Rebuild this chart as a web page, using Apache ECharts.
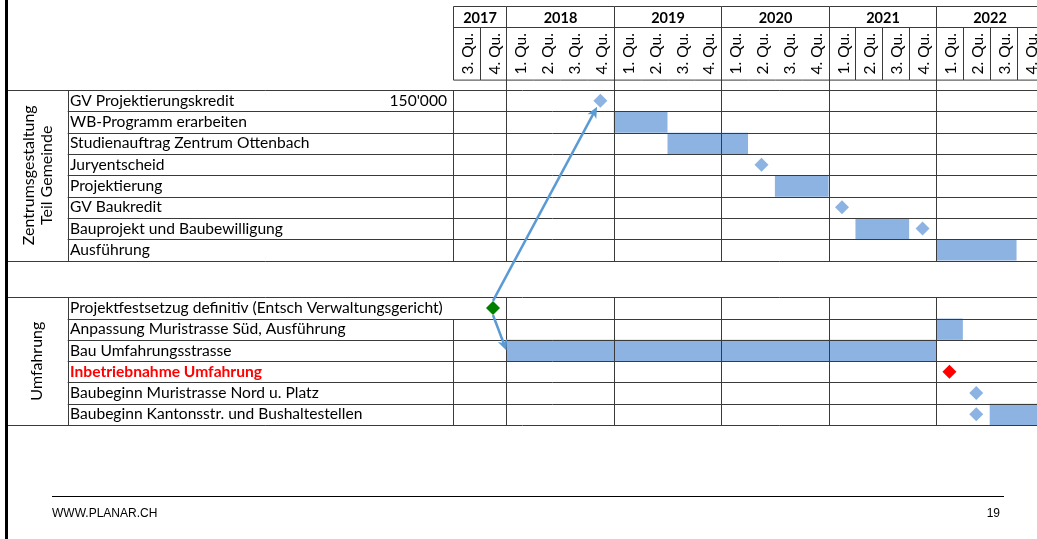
<!DOCTYPE html>
<html><head><meta charset="utf-8">
<script src="https://cdn.jsdelivr.net/npm/echarts@6/dist/echarts.min.js"></script>
<style>html,body{margin:0;padding:0;background:#fff}#c{width:1037px;height:539px}</style>
</head><body><div id="c"></div>
<script>
// ---------- data ----------
const years = ['2017', '2018', '2019', '2020', '2021', '2022'];
const yearStart = [0, 2, 6, 10, 14, 18];   // quarter index (0 = 2017 Q3)
const yearEnd = [2, 6, 10, 14, 18, 22];
const quarterLabels = ['3. Qu.', '4. Qu.',
  '1. Qu.', '2. Qu.', '3. Qu.', '4. Qu.',
  '1. Qu.', '2. Qu.', '3. Qu.', '4. Qu.',
  '1. Qu.', '2. Qu.', '3. Qu.', '4. Qu.',
  '1. Qu.', '2. Qu.', '3. Qu.', '4. Qu.',
  '1. Qu.', '2. Qu.', '3. Qu.', '4. Qu.'];
const groupA = 'Zentrumsgestaltung\nTeil Gemeinde';
const groupB = 'Umfahrung';
const tasksA = ['GV Projektierungskredit', 'WB-Programm erarbeiten', 'Studienauftrag Zentrum Ottenbach',
  'Juryentscheid', 'Projektierung', 'GV Baukredit', 'Bauprojekt und Baubewilligung', 'Ausführung'];
const tasksB = ['Projektfestsetzug definitiv (Entsch Verwaltungsgericht)', 'Anpassung Muristrasse Süd, Ausführung',
  'Bau Umfahrungsstrasse', 'Inbetriebnahme Umfahrung', 'Baubeginn Muristrasse Nord u. Platz',
  'Baubeginn Kantonsstr. und Bushaltestellen'];
const highlightTask = 'Inbetriebnahme Umfahrung';
const creditAmount = "150'000";
// bars: [row, startQuarter, endQuarter]
const barsA = [[1, 6, 8], [2, 8, 11], [4, 12, 14], [6, 15, 17], [7, 18, 21]];
const barsB = [[1, 18, 19], [2, 2, 18], [5, 20, 22]];
// milestones: [quarter, row]
const milestonesA = [[5.5, 0], [11.5, 3], [14.5, 5], [17.5, 6]];
const milestonesB = [[19.5, 4], [19.5, 5]];
const decisionB = [[1.5, 0]];
const openingB = [[18.5, 3]];
const footerLeft = 'WWW.PLANAR.CH';
const footerRight = '19';

// ---------- layout / style ----------
const W = 1037, QW = 26.85;
const G = { left: 452.7, nameX: 67.7, outerX: 8, labelX: 70,
  aTop: 90, aH: 170.6, bTop: 297.3, bH: 127.7,
  hTop: 5.7, yearH: 21, qH: 52.6, hH: 84.3 };
const XMAX = (W - G.left) / QW;   // visible quarter range (chart is cut at the right edge)
const LINE = '#3a3a3a';
const BAR = '#8db3e2';
const FONT = 'Lato, "Open Sans", sans-serif';
const TFS = 15.6;
const quarterDividers = [1, 15, 16, 17, 19, 20, 21];

const chart = echarts.init(document.getElementById('c'), null, { renderer: 'canvas' });

function renderBar(params, api) {
  const row = api.value(0), s = api.value(1), e = api.value(2);
  const p0 = api.coord([s, row]), p1 = api.coord([e, row]);
  const h = api.size([0, 1])[1];
  return { type: 'rect', shape: { x: p0[0], y: p0[1] - h / 2, width: p1[0] - p0[0], height: h },
    style: { fill: BAR } };
}
function renderYearLine(params, api) {
  const x = Math.round(api.coord([api.value(0), 0])[0]) + 0.5;
  const cs = params.coordSys;
  return { type: 'line', shape: { x1: x, y1: Math.round(cs.y) + 0.5, x2: x, y2: Math.round(cs.y + cs.height) + 0.5 },
    style: { stroke: LINE, lineWidth: 1 } };
}
function renderYear(params, api) {
  const i = params.dataIndex, cs = params.coordSys;
  const x0 = Math.round(api.coord([api.value(1), 0])[0]) + 0.5;
  const x1 = Math.round(api.coord([api.value(2), 0])[0]) + 0.5;
  const top = Math.round(cs.y) + 0.5;
  const ch = [
    { type: 'line', shape: { x1: x0, y1: top, x2: x1, y2: top }, style: { stroke: LINE, lineWidth: 1 } },
    { type: 'line', shape: { x1: x0, y1: top + G.yearH, x2: x1, y2: top + G.yearH }, style: { stroke: LINE, lineWidth: 1 } },
    { type: 'line', shape: { x1: x0, y1: top, x2: x0, y2: i === 0 ? top + G.yearH + G.qH : Math.round(cs.y + cs.height) + 0.5 },
      style: { stroke: LINE, lineWidth: 1 } },
    { type: 'text', style: { text: years[i], x: (x0 + x1) / 2, y: top + G.yearH / 2 + 1, align: 'center',
      verticalAlign: 'middle', font: 'bold 14.5px ' + FONT, fill: '#000' } }
  ];
  return { type: 'group', children: ch };
}
function renderQuarter(params, api) {
  const i = api.value(0), cs = params.coordSys;
  const x0 = Math.round(api.coord([i, 0])[0]) + 0.5;
  const x1 = Math.round(api.coord([i + 1, 0])[0]) + 0.5;
  const top = Math.round(cs.y) + 0.5 + G.yearH;
  const bottom = top + G.qH;
  const ch = [
    { type: 'line', shape: { x1: x0, y1: bottom, x2: x1, y2: bottom }, style: { stroke: LINE, lineWidth: 1 } },
    { type: 'text', x: (x0 + x1) / 2 + 1, y: (top + bottom) / 2, rotation: Math.PI / 2,
      style: { text: quarterLabels[i], align: 'center', verticalAlign: 'middle', font: '15.5px ' + FONT, fill: '#000' } }
  ];
  if (quarterDividers.indexOf(i) >= 0) {
    ch.push({ type: 'line', shape: { x1: x0, y1: top, x2: x0, y2: bottom }, style: { stroke: LINE, lineWidth: 1 } });
  }
  return { type: 'group', children: ch };
}

function catAxis(gridIndex, data) {
  return {
    gridIndex, type: 'category', inverse: true, z: 5, data,
    axisTick: { show: false },
    axisLine: { show: false },
    axisLabel: { interval: 0, align: 'left', margin: G.left - G.labelX, color: '#000', fontSize: TFS, fontFamily: FONT,
      formatter: v => v === highlightTask ? '{r|' + v + '}' : v,
      rich: { r: { color: '#ff0000', fontWeight: 'bold', fontSize: TFS, fontFamily: FONT } } },
    splitLine: { show: false }
  };
}
const valX = gi => ({ gridIndex: gi, type: 'value', min: 0, max: XMAX, show: false });
const gridBase = { left: G.left, right: 0, outerBoundsMode: 'none', containLabel: false };

chart.setOption({
  animation: false,
  backgroundColor: '#fff',
  grid: [
    Object.assign({ top: G.aTop, height: G.aH }, gridBase),
    Object.assign({ top: G.bTop, height: G.bH }, gridBase),
    Object.assign({ top: G.hTop, height: G.hH }, gridBase)
  ],
  xAxis: [valX(0), valX(1), valX(2)],
  yAxis: [catAxis(0, tasksA), catAxis(1, tasksB),
    { gridIndex: 2, type: 'value', min: 0, max: 1, show: false }],
  series: [
    { type: 'custom', xAxisIndex: 0, yAxisIndex: 0, z: 1, renderItem: renderBar, encode: { x: [1, 2], y: 0 }, data: barsA },
    { type: 'custom', xAxisIndex: 1, yAxisIndex: 1, z: 1, renderItem: renderBar, encode: { x: [1, 2], y: 0 }, data: barsB },
    { type: 'custom', xAxisIndex: 0, yAxisIndex: 0, z: 6, renderItem: renderYearLine, encode: { x: 0 }, data: yearStart.slice(1).map(v => [v]) },
    { type: 'custom', xAxisIndex: 1, yAxisIndex: 1, z: 6, renderItem: renderYearLine, encode: { x: 0 }, data: yearStart.slice(1).map(v => [v]) },
    { type: 'custom', xAxisIndex: 2, yAxisIndex: 2, z: 6, renderItem: renderYear, encode: { x: [1, 2] },
      data: years.map((y, i) => [i, yearStart[i], yearEnd[i]]) },
    { type: 'custom', xAxisIndex: 2, yAxisIndex: 2, z: 6, renderItem: renderQuarter, encode: { x: 0 },
      data: quarterLabels.map((q, i) => [i]) },
    { type: 'scatter', xAxisIndex: 0, yAxisIndex: 0, z: 10, symbol: 'diamond', symbolSize: 14,
      itemStyle: { color: BAR, opacity: 1 }, data: milestonesA },
    { type: 'scatter', xAxisIndex: 1, yAxisIndex: 1, z: 10, symbol: 'diamond', symbolSize: 14,
      itemStyle: { color: BAR, opacity: 1 }, data: milestonesB },
    { type: 'scatter', xAxisIndex: 1, yAxisIndex: 1, z: 10, symbol: 'diamond', symbolSize: 14,
      itemStyle: { color: '#008000', opacity: 1 }, data: decisionB },
    { type: 'scatter', xAxisIndex: 1, yAxisIndex: 1, z: 10, symbol: 'diamond', symbolSize: 14,
      itemStyle: { color: '#ff0000', opacity: 1 }, data: openingB }
  ]
});

// ---------- table frame, labels, arrows ----------
const px = v => Math.round(v) + 0.5;
const gfx = [];
function hline(x1, x2, y) { gfx.push({ type: 'line', z: 20, shape: { x1, y1: px(y), x2, y2: px(y) }, style: { stroke: LINE, lineWidth: 1 } }); }
function vline(x, y1, y2) { gfx.push({ type: 'line', z: 20, shape: { x1: px(x), y1: px(y1), x2: px(x), y2: px(y2) }, style: { stroke: LINE, lineWidth: 1 } }); }

[[G.aTop, G.aH, tasksA.length], [G.bTop, G.bH, tasksB.length]].forEach(([top, h, n]) => {
  for (let k = 0; k <= n; k++) hline(k === 0 || k === n ? G.outerX : G.nameX, W, top + k * h / n);
  vline(G.nameX, top, top + h);
});
vline(G.left, G.aTop, G.aTop + G.aH);
vline(G.left, G.bTop + G.bH / tasksB.length, G.bTop + G.bH);

gfx.push({ type: 'rect', z: 30, shape: { x: 5, y: 0, width: 3, height: 539 }, style: { fill: '#000' } });
gfx.push({ type: 'text', z: 30, x: 38, y: G.aTop + G.aH / 2, rotation: Math.PI / 2,
  style: { text: groupA, align: 'center', verticalAlign: 'middle', font: '16px ' + FONT, lineHeight: 18.5, fill: '#000' } });
gfx.push({ type: 'text', z: 30, x: 37, y: G.bTop + G.bH / 2, rotation: Math.PI / 2,
  style: { text: groupB, align: 'center', verticalAlign: 'middle', font: '16px ' + FONT, fill: '#000' } });
gfx.push({ type: 'text', z: 30, style: { text: creditAmount, x: 447, y: G.aTop + G.aH / tasksA.length / 2,
  align: 'right', verticalAlign: 'middle', font: TFS + 'px ' + FONT, fill: '#000' } });
// footer
gfx.push({ type: 'line', z: 30, shape: { x1: 52, y1: 496.5, x2: 1004, y2: 496.5 }, style: { stroke: '#000', lineWidth: 1 } });
gfx.push({ type: 'text', z: 30, style: { text: footerLeft, x: 52, y: 514, verticalAlign: 'middle', font: '12px "Liberation Sans", Arial, sans-serif', fill: '#000' } });
gfx.push({ type: 'text', z: 30, style: { text: footerRight, x: 1000, y: 514, align: 'right', verticalAlign: 'middle', font: '12px "Liberation Sans", Arial, sans-serif', fill: '#000' } });

// arrows linking milestones (positions obtained through the chart's scales)
const ARROW = '#5b9bd5';
function arrow(s, t) {
  const dx = t[0] - s[0], dy = t[1] - s[1], L = Math.hypot(dx, dy);
  const ux = dx / L, uy = dy / L, nx = -uy, ny = ux;
  const len = 11, w = 5, notch = 3;
  const bx = t[0] - ux * len, by = t[1] - uy * len;
  const mx = t[0] - ux * (len - notch), my = t[1] - uy * (len - notch);
  gfx.push({ type: 'line', z: 40, shape: { x1: s[0], y1: s[1], x2: mx, y2: my }, style: { stroke: ARROW, lineWidth: 2.5 } });
  gfx.push({ type: 'polygon', z: 40, shape: { points: [[t[0], t[1]], [bx + nx * w, by + ny * w], [mx, my], [bx - nx * w, by - ny * w]] },
    style: { fill: ARROW } });
}
const pGreen = chart.convertToPixel({ gridIndex: 1 }, decisionB[0]);
const pBlue = chart.convertToPixel({ gridIndex: 0 }, milestonesA[0]);
const pBar = chart.convertToPixel({ gridIndex: 1 }, [barsB[1][1], barsB[1][0]]);
(function () {
  const s = [pGreen[0], pGreen[1] - 7];
  const dx = pBlue[0] - s[0], dy = pBlue[1] - s[1], L = Math.hypot(dx, dy);
  arrow(s, [pBlue[0] - dx / L * 7, pBlue[1] - dy / L * 7]);
  arrow([pGreen[0], pGreen[1] + 7], [pBar[0], pBar[1]]);
})();

chart.setOption({ graphic: { elements: gfx } });
</script>
</body></html>
